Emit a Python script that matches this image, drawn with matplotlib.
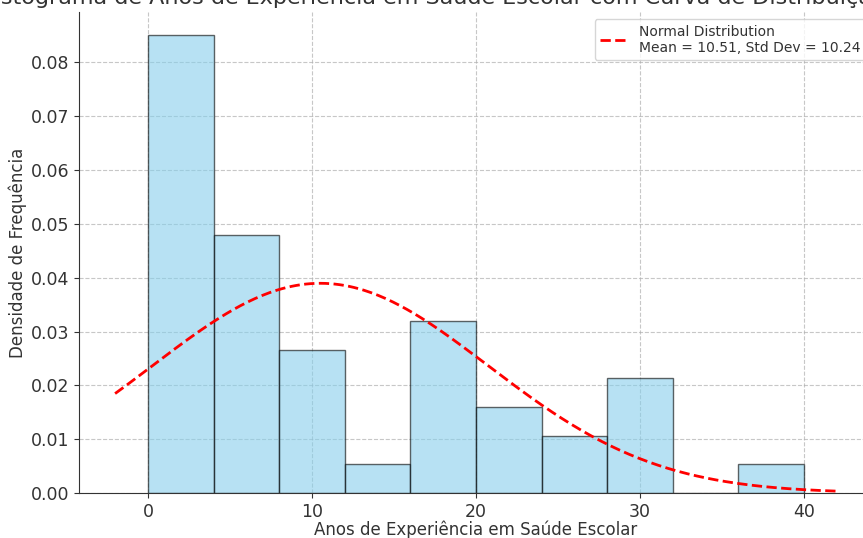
import numpy as np
import matplotlib
matplotlib.use("Agg")
import matplotlib.pyplot as plt

# histogram bins (years of experience) and counts per bin
bin_edges = [0, 4, 8, 12, 16, 20, 24, 28, 32, 36, 40]
counts = [16, 9, 5, 1, 6, 3, 2, 4, 0, 1]

mean_val = 10.51
std_val = 10.24
curve_range = (-2, 42)

title = "Histograma de Anos de Experiência em Saúde Escolar com Curva de Distribuição Normal"
xlabel = "Anos de Experiência em Saúde Escolar"
ylabel = "Densidade de Frequência"

edges = np.array(bin_edges, dtype=float)
widths = np.diff(edges)
density = np.array(counts) / (np.sum(counts) * widths)

text_col = "#333333"
plt.rcParams["text.color"] = text_col
plt.rcParams["axes.labelcolor"] = text_col
plt.rcParams["xtick.color"] = text_col
plt.rcParams["ytick.color"] = text_col
plt.rcParams["axes.edgecolor"] = text_col

fig = plt.figure(figsize=(8.63, 5.38), dpi=100)
# the reference is a crop: axes run a bit past the right edge
ax = fig.add_axes([79 / 863, 45 / 538, (873 - 79) / 863, (493 - 12) / 538])

ax.bar(edges[:-1], density, width=widths, align="edge",
       color="skyblue", edgecolor="black", alpha=0.6, linewidth=1)

x = np.linspace(curve_range[0], curve_range[1], 300)
pdf = np.exp(-0.5 * ((x - mean_val) / std_val) ** 2) / (std_val * np.sqrt(2 * np.pi))
ax.plot(x, pdf, "r--", linewidth=2,
        label=f"Normal Distribution\nMean = {mean_val:.2f}, Std Dev = {std_val:.2f}")

ax.set_ylim(0, None)
ax.set_title(title, fontsize=16)
ax.set_xlabel(xlabel, fontsize=12)
ax.set_ylabel(ylabel, fontsize=12)
ax.xaxis.set_label_coords(0.5, -0.057)
ax.yaxis.set_label_coords(-0.066, 0.5)
ax.tick_params(labelsize=12.5)
ax.grid(True, linestyle="--", alpha=0.7)
ax.set_axisbelow(True)
ax.spines["top"].set_visible(False)
ax.spines["right"].set_visible(False)
ax.legend(loc="upper right", fontsize=10)

fig.savefig("out.png", dpi=100)
